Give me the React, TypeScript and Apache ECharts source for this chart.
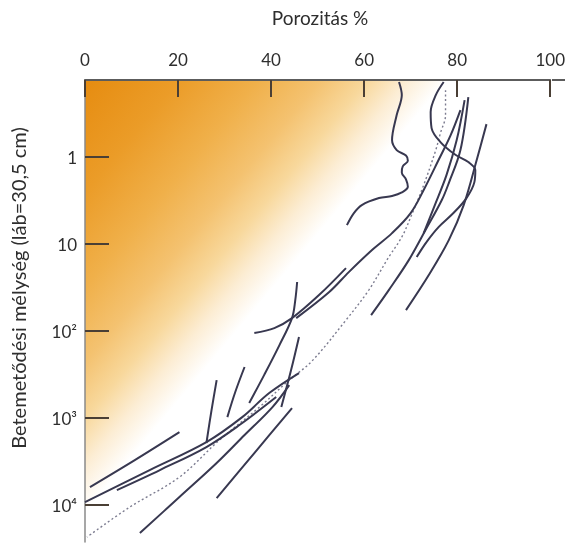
import React, { useEffect, useRef } from "react";
import * as echarts from "echarts";

// Axis ticks
const porosityTicks = [0, 20, 40, 60, 80, 100];
const depthTicks = [1, 10, 100, 1000, 10000];
const depthTickLabels = ["1", "10", "10²", "10³", "10⁴"];

const xTitle = "Porozitás %";
const yTitle = "Betemetődési mélység (láb=30,5 cm)";

// Curves: [porosity %, burial depth (ft)]
const curveWavy = [
  [67.5, 0.137], [68.1, 0.194], [67.0, 0.329], [66.0, 0.638], [67.0, 0.831],
  [69.0, 0.96], [69.4, 1.1], [68.3, 1.28], [68.1, 1.5], [69.0, 1.8],
  [69.4, 2.2], [68.1, 2.55], [66.0, 2.8], [63.2, 2.96], [59.5, 3.56],
  [57.8, 4.4], [56.3, 6.05],
];
const curveHook = [
  [77.1, 0.137], [75.4, 0.194], [74.3, 0.304], [74.5, 0.464], [76.4, 0.672],
  [79.7, 0.948], [82.4, 1.14], [83.9, 1.41], [83.7, 1.94], [82.0, 2.96],
  [79.2, 4.4], [76.0, 6.38], [73.4, 9.49], [71.3, 14.1],
];
const curveUpperA = [
  [82.4, 0.204], [80.7, 0.831], [78.2, 1.99], [76.7, 3.12], [73.2, 6.9],
  [69.6, 15.3], [65.3, 33.8], [61.5, 65.5],
];
const curveUpperB = [
  [81.6, 0.221], [79.9, 0.638], [77.7, 1.61], [75.2, 3.56], [72.8, 7.48],
];
const curveUpperC = [
  [86.3, 0.418], [84.2, 1.08], [81.4, 3.56], [78.2, 9.0], [73.9, 22.7], [69.0, 57.4],
];
const curveLong = [
  [80.7, 0.288], [78.6, 0.559], [76.0, 1.08], [72.8, 2.39], [70.0, 4.4],
  [66.0, 7.48], [61.7, 11.7], [56.7, 21.0], [52.5, 35.6], [45.4, 71.0],
];
const curveArc = [
  [36.4, 105], [40.7, 92.4], [44.5, 71.0], [50.3, 38.6], [56.1, 18.9],
];
const curveSteepA = [
  [45.6, 27.3], [45.2, 44.0], [44.5, 71.0], [41.8, 145], [38.5, 321], [35.3, 673],
];
const curveSteepB = [[28.3, 366], [27.2, 809], [26.1, 1936]];
const curveSteepC = [[34.3, 259], [32.3, 502], [30.6, 975]];
const curveSteepD = [[46.0, 117], [44.3, 281], [42.2, 748]];
const curveLowA = [[1.07, 6210], [10.7, 3040], [20.3, 1449]];
const curveLowB = [
  [0, 9240], [13.9, 3960], [26.1, 1888], [33.8, 975], [39.6, 516], [46.0, 304],
];
const curveLowC = [
  [6.85, 6730], [16.1, 3960], [26.1, 2153], [33.2, 1203], [41.1, 574],
];
const curveLowD = [
  [11.8, 20990], [20.3, 8090], [28.3, 3290], [34.3, 1568], [40.3, 748], [43.9, 418],
];
const curveLowE = [[28.3, 8310], [36.4, 2525], [44.5, 768]];

// Average trend (dotted)
const curveTrend = [
  [77.5, 0.17], [77.5, 0.329], [76.4, 0.53], [75.4, 0.831], [72.8, 2.1],
  [70.2, 4.64], [68.1, 8.31], [65.3, 14.1], [61.0, 33.8], [56.1, 74.8],
  [48.8, 221], [43.9, 366], [37.5, 748], [28.9, 1791], [20.3, 4770],
  [9.64, 10540], [0.43, 23350],
];

const solidCurves = [
  curveWavy, curveHook, curveUpperA, curveUpperB, curveUpperC, curveLong,
  curveArc, curveSteepA, curveSteepB, curveSteepC, curveSteepD,
  curveLowA, curveLowB, curveLowC, curveLowD, curveLowE,
];

const FONT = "Lato, 'Open Sans', sans-serif";
const LINE = "#383850";
const TEXT = "#2e2e2e";

export default function App() {
  const ref = useRef<HTMLDivElement>(null);

  useEffect(() => {
    if (!ref.current) return;
    const chart = echarts.init(ref.current, undefined, { renderer: "svg" });

    const series: any[] = solidCurves.map((d, i) => ({
      type: "line",
      name: "c" + i,
      data: d,
      smooth: 0.35,
      showSymbol: false,
      symbol: "none",
      lineStyle: { color: LINE, width: 2 },
      z: 3,
    }));
    series.push({
      type: "line",
      name: "trend",
      data: curveTrend,
      smooth: 0.35,
      showSymbol: false,
      symbol: "none",
      lineStyle: { color: "#7c7c90", width: 1.4, type: [2, 2.5] },
      z: 2,
    });

    chart.setOption({
      animation: false,
      textStyle: { fontFamily: FONT },
      grid: {
        left: 85,
        right: 16,
        top: 80,
        bottom: 4,
        show: true,
        borderWidth: 0,
        backgroundColor: new echarts.graphic.LinearGradient(0, 0, 1, 0.83, [
          { offset: 0, color: "#E68C10" },
          { offset: 0.12, color: "#EB9C28" },
          { offset: 0.22, color: "#F0B04A" },
          { offset: 0.3, color: "#F4C270" },
          { offset: 0.36, color: "#F8D89C" },
          { offset: 0.41, color: "#FCEDD4" },
          { offset: 0.46, color: "#FFFFFF" },
          { offset: 1, color: "#FFFFFF" },
        ]),
      },
      xAxis: {
        type: "value",
        position: "top",
        min: porosityTicks[0],
        max: porosityTicks[porosityTicks.length - 1],
        interval: 20,
        axisLine: { show: true, lineStyle: { color: "#5c5c5c", width: 2 } },
        axisTick: {
          show: true,
          inside: true,
          length: 17,
          lineStyle: { color: "#4a3f35", width: 2 },
        },
        axisLabel: {
          margin: 12,
          fontSize: 17,
          color: TEXT,
          fontFamily: FONT,
          showMinLabel: true,
          showMaxLabel: true,
        },
        splitLine: { show: false },
      },
      yAxis: {
        type: "log",
        logBase: 10,
        inverse: true,
        min: 0.13,
        max: 26600,
        axisLine: { show: true, lineStyle: { color: "#8a8a8a", width: 1.5 } },
        axisTick: {
          show: true,
          inside: true,
          length: 24,
          customValues: depthTicks,
          lineStyle: { color: "#4a3f35", width: 2 },
        },
        axisLabel: {
          customValues: depthTicks,
          margin: 8,
          fontSize: 17,
          color: TEXT,
          fontFamily: FONT,
          formatter: (v: number) => {
            const i = depthTicks.findIndex(
              (t) => Math.abs(Math.log10(t) - Math.log10(v)) < 0.01
            );
            return i >= 0 ? depthTickLabels[i] : "";
          },
        },
        splitLine: { show: false },
      },
      graphic: [
        {
          type: "text",
          x: 320,
          y: 17,
          style: {
            text: xTitle,
            fontSize: 19,
            fill: TEXT,
            fontFamily: FONT,
            align: "center",
            verticalAlign: "middle",
          },
        },
        {
          type: "text",
          x: 18,
          y: 288,
          rotation: Math.PI / 2,
          style: {
            text: yTitle,
            fontSize: 20,
            fill: TEXT,
            fontFamily: FONT,
            align: "center",
            verticalAlign: "middle",
          },
        },
        {
          type: "line",
          shape: { x1: 552, y1: 80, x2: 565, y2: 80 },
          style: { stroke: "#5c5c5c", lineWidth: 2 },
        },
      ],
      series,
    });

    return () => chart.dispose();
  }, []);

  return (
    <div
      ref={ref}
      style={{ position: "fixed", left: 0, top: 0, width: 568, height: 546 }}
    />
  );
}
